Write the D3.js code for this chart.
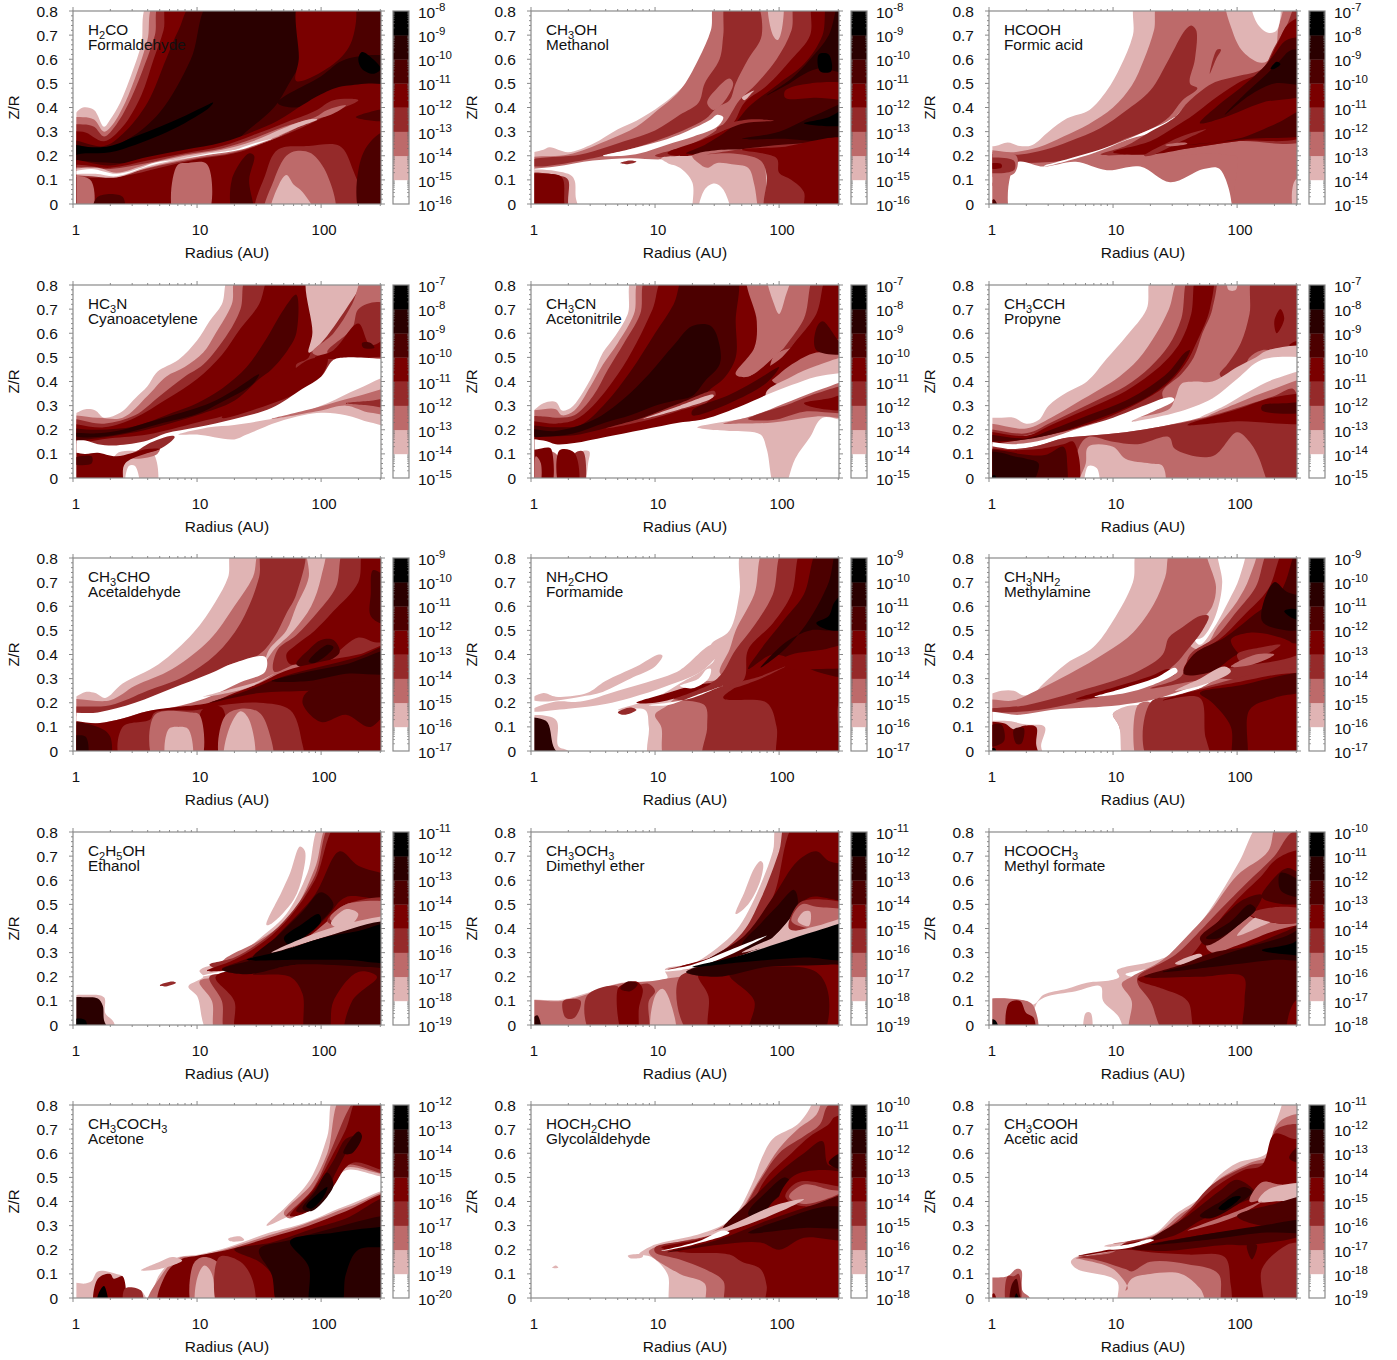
<!DOCTYPE html>
<html><head><meta charset="utf-8">
<script src="https://cdnjs.cloudflare.com/ajax/libs/d3/7.8.5/d3.min.js"></script>
<style>html,body{margin:0;background:#fff}svg{display:block}text{font-family:"Liberation Sans",Arial,sans-serif;fill:#111}</style>
</head><body><div id="c"></div>
<script>
// Abundance regions, painted in order.
// Each entry: "class  log10(R),Z/R  log10(R),Z/R ...";  * closes via the right side and the bottom of the panel.
const H2CO=[
"1 -.1,.36 0,.37 .08,.40 .17,.39 .25,.32 .3,.35 .38,.42 .48,.55 .55,.66 .63,.85 *",
"2 -.1,.34 .08,.36 .17,.35 .25,.30 .32,.33 .42,.42 .52,.55 .6,.68 .68,.85 *",
"3 -.1,.31 .08,.33 .17,.32 .25,.28 .35,.33 .47,.44 .58,.58 .66,.7 .72,.85 *",
"4 -.1,.28 .08,.30 .25,.26 .4,.32 .55,.45 .65,.6 .73,.72 .78,.85 *",
"5 -.1,.26 .25,.24 .4,.29 .6,.42 .75,.6 .85,.72 1,.85 *",
"6 -.1,.245 .25,.23 .45,.27 .7,.38 .95,.6 1.12,.85 1.83,.85 1.85,.62 1.72,.48 1.62,.40 1.42,.31 1.2,.22 .9,.2 .5,.17 0,.18 -.1,.18",
"6 1.65,.42 2.0,.53 2.2,.6 2.6,.6 2.6,.5 2.1,.46 1.8,.4",
"4 1.83,.85 2.25,.85 2.25,.68 2.1,.58 1.8,.51 1.82,.6",
"7 2.33,.63 2.42,.6 2.48,.56 2.42,.54 2.33,.56 2.3,.6",
"7 -.1,.245 .15,.235 .3,.24 .5,.28 .7,.32 .9,.365 1.1,.415 1.13,.42 1.1,.40 .9,.335 .7,.285 .5,.245 .3,.215 .1,.21 -.1,.2",
"4 -.1,.175 .3,.16 .6,.195 .9,.225 1.2,.255 1.45,.30 1.65,.345 1.85,.41 2.0,.455 2.2,.49 2.6,.47 2.6,-.05 -.1,-.05",
"5 2.28,.36 2.5,.395 2.6,.4 2.6,.35",
"3 0,.16 .3,.15 .6,.18 .9,.21 1.2,.24 1.45,.285 1.7,.335 1.95,.385 2.1,.43 2.3,.43 2.1,.38 1.9,.33 1.6,.265 1.3,.21 1.0,.185 .7,.15 .4,.115 .1,.11 -.1,.12",
"2 0,.15 .3,.145 .6,.17 .9,.205 1.2,.23 1.45,.27 1.7,.32 1.95,.36 2.05,.39 2.2,.41 2.1,.375 1.9,.34 1.6,.265 1.3,.215 1.0,.19 .7,.16 .4,.125 .1,.115 -.1,.12",
"1 0,.145 .2,.15 .35,.13 .6,.165 .9,.2 1.2,.225 1.45,.26 1.7,.315 1.9,.35 1.97,.35 1.8,.315 1.5,.25 1.2,.215 .9,.185 .6,.15 .35,.11 .15,.115 -.1,.13",
"0 0,.135 .15,.145 .35,.125 .55,.15 .65,.17 .85,.185 1.1,.21 1.3,.225 1.45,.25 1.6,.27 1.75,.3 1.55,.26 1.35,.225 1.1,.205 .8,.18 .6,.155 .35,.115 .18,.125 -.1,.125",
"2 -.1,.10 .14,.10 .14,-.05 -.1,-.05",
"5 .16,-.05 .2,.03 .4,.03 .4,-.05",
"5 1.3,-.05 1.28,.1 1.42,.21 1.46,.2 1.42,.1 1.45,-.05",
"2 .82,-.05 .84,.16 .93,.17 1.08,.165 1.08,-.05",
"3 1.48,-.05 1.55,.12 1.65,.225 1.9,.24 2.15,.24 2.25,.15 2.33,-.05",
"2 1.55,-.05 1.62,.1 1.72,.2 1.8,.22 1.92,.21 2.05,.12 2.1,-.05",
"1 1.6,-.05 1.66,.08 1.72,.12 1.78,.08 1.85,.05 1.95,-.05",
"5 2.33,-.05 2.33,.2 2.5,.3 2.7,.3 2.7,-.05"];
const CH3OH=[
"1 -.1,.17 0,.21 .1,.225 .15,.235 .3,.215 .5,.25 .7,.31 .85,.345 1.05,.41 1.25,.5 1.35,.57 1.48,.7 1.6,.85 *",
"2 -.1,.185 0,.195 .3,.205 .6,.26 .85,.32 1.0,.38 1.2,.47 1.35,.6 1.45,.72 1.5,.85 *",
"3 0,.18 .4,.205 .75,.26 1.0,.305 1.2,.37 1.35,.42 1.4,.5 1.52,.6 1.55,.7 1.58,.85 1.8,.85 1.86,.7 1.75,.6 1.65,.5 1.6,.43 1.5,.4 1.4,.35 1.0,.26 .5,.19 0,.16",
"2 1.42,.42 1.5,.48 1.6,.52 1.63,.5 1.55,.42 1.47,.39",
"1 1.92,.85 1.95,.7 1.99,.68 2.03,.75 2.02,.85",
"3 2.14,.85 2.1,.72 1.98,.6 1.82,.5 1.68,.43 1.55,.33 1.3,.25 1.0,.2 1.2,.19 2.6,.19 2.6,.85",
"4 2.28,.85 2.25,.7 2.1,.6 1.9,.49 1.72,.42 1.62,.33 1.4,.27 1.1,.21 1.3,.195 2.6,.2 2.6,.85",
"5 2.4,.85 2.35,.7 2.2,.58 2.0,.5 1.75,.4 1.62,.32 1.4,.245 1.25,.21 1.7,.22 2.6,.25 2.6,.85",
"6 2.5,.85 2.4,.7 2.25,.6 2.1,.52 1.9,.45 2.05,.49 2.3,.56 2.6,.55 2.6,.85",
"7 2.32,.62 2.4,.62 2.42,.55 2.33,.55",
"4 2.05,.47 2.25,.5 2.6,.49 2.6,.44 2.3,.44 2.05,.44",
"1 1.7,.44 1.8,.47 1.78,.46 1.72,.43",
"3 1.5,.30 1.72,.335 1.96,.345 1.75,.35 1.5,.315",
"6 1.7,.27 2.0,.30 2.3,.37 2.6,.42 2.6,.28 2.0,.27",
"7 2.2,.335 2.4,.36 2.6,.41 2.6,.335",
"0 .58,.2 .77,.224 1.04,.26 1.25,.30 1.45,.35 1.5,.37 1.55,.36 1.5,.32 1.31,.28 1.09,.245 .88,.21 .75,.2",
"0 -.1,-.1 -.1,.145 0,.145 .2,.155 .5,.18 .8,.19 1.05,.185 1.3,.2 2.0,.2 2.0,-.1",
"3 .72,.17 .8,.18 .85,.175 .78,.165",
"1 1.05,.19 1.3,.2 1.9,.2 1.9,-.1 1.33,-.1 1.3,.09 1.2,.15 1.1,.17",
"0 1.36,-.05 1.4,.06 1.48,.085 1.55,.06 1.6,-.05",
"2 1.3,.2 1.85,.2 1.85,-.1 1.8,.08 1.75,.15 1.62,.165 1.5,.17 1.42,.15 1.35,.17",
"3 1.9,-.05 1.9,.12 1.85,.18 1.6,.21 1.4,.205 2.6,.22 2.6,-.05",
"4 1.7,.225 2.0,.235 2.6,.26 2.6,-.05 2.21,-.05 2.2,.05 2.1,.1 2.0,.13 1.98,.19",
"1 -.1,.125 .3,.125 .35,.1 .36,.03 .38,-.05 -.1,-.05",
"3 -.1,.115 .25,.115 .3,.1 .3,.0 .33,-.05 -.1,-.05",
"4 -.1,.11 .12,.125 .25,.11 .27,.0 .3,-.05 -.1,-.05"];
const HCOOH=[
"1 -.1,.23 .05,.24 .15,.255 .25,.24 .35,.245 .48,.30 .63,.355 .81,.39 .95,.47 1.06,.57 1.16,.7 1.2,.85 *",
"2 -.1,.21 .2,.215 .4,.235 .6,.28 .8,.33 1.0,.40 1.15,.49 1.25,.6 1.33,.72 1.38,.85 *",
"1 1.92,.85 1.96,.72 2.05,.63 2.2,.585 2.3,.62 2.33,.72 2.36,.85",
"0 2.12,.85 2.16,.75 2.25,.71 2.32,.72 2.33,.85",
"3 -.1,.2 .25,.205 .45,.225 .65,.26 .9,.315 1.1,.385 1.3,.47 1.45,.6 1.58,.72 1.63,.74 1.67,.72 1.66,.6 1.62,.5 1.68,.48 1.56,.43 1.45,.36 1.3,.31 1.1,.27 .9,.225 .6,.18 .3,.17 -.1,.17",
"3 1.78,.54 1.83,.6 1.87,.64 1.84,.64 1.79,.57",
"0 .22,-.1 .22,.17 .44,.155 .7,.175 .95,.14 1.22,.155 1.46,.09 1.73,.145 1.86,.145 1.92,-.1",
"0 .45,.16 .52,.17 .92,.23 1.19,.285 1.43,.34 1.5,.36 1.41,.315 1.11,.265 .84,.21 .44,.155",
"1 1.5,.36 1.65,.44 1.7,.45 1.55,.38 1.45,.34 1.43,.32",
"2 2.0,-.05 2.0,.195 1.95,.2 1.8,.21 1.5,.2 1.25,.2 1.1,.2 2.0,.26 2.6,.27 2.6,-.05",
"1 2.47,-.05 2.47,.1 2.6,.1 2.6,-.05",
"3 .9,.205 1.1,.24 1.3,.3 1.5,.36 1.6,.42 1.8,.5 2.0,.53 2.2,.56 2.3,.65 2.4,.74 2.5,.85 2.6,.85 2.6,.28 2.0,.26 1.6,.23 1.3,.21",
"4 1.0,.215 1.3,.26 1.5,.32 1.65,.37 1.8,.43 2.0,.5 2.2,.55 2.32,.66 2.42,.75 2.6,.78 2.6,.3 2.0,.26 1.6,.23 1.3,.205",
"5 1.7,.335 1.85,.41 2.0,.47 2.2,.56 2.3,.62 2.4,.68 2.6,.68 2.6,.47 2.2,.42 1.9,.36",
"5 1.5,.24 2.0,.27 2.3,.33 2.6,.4 2.6,.3 2.1,.27",
"6 1.9,.37 2.05,.45 2.2,.52 2.32,.58 2.45,.64 2.6,.6 2.6,.5 2.3,.5 2.1,.45",
"7 2.27,.56 2.32,.59 2.35,.58 2.3,.56",
"3 1.25,.2 1.55,.28 1.75,.31 1.55,.26 1.3,.2",
"2 1.42,.245 1.58,.255 1.6,.25 1.45,.24",
"2 -.1,.2 .22,.2 .2,.125 -.1,.13",
"3 -.1,.18 .2,.18 .2,.14 -.1,.14",
"4 0,.165 .1,.165 .1,.15 0,.15",
"2 .02,.08 .08,.11 .15,.11 .14,.07 .05,.07",
"5 0,.0 .04,.02 .08,-.05 -.1,-.05"];
const HC3N=[
"1 -.1,.26 0,.265 .1,.285 .18,.28 .25,.25 .38,.27 .5,.33 .6,.38 .68,.44 .85,.49 1.0,.57 1.1,.65 1.2,.72 1.28,.85 *",
"2 -.1,.245 .2,.25 .4,.25 .6,.34 .75,.42 .9,.46 1.05,.52 1.15,.6 1.28,.72 1.33,.85 *",
"3 -.1,.235 .25,.225 .5,.26 .7,.34 .9,.42 1.05,.47 1.25,.6 1.35,.7 1.42,.85 *",
"4 -.1,.22 .25,.21 .5,.25 .75,.325 1.0,.41 1.2,.51 1.35,.62 1.5,.72 1.6,.85 1.9,.85 1.93,.6 1.9,.5 1.8,.47 1.8,.42 1.6,.34 1.3,.27 1.0,.23 .6,.18 .3,.165 -.1,.15",
"5 -.1,.2 .2,.2 .5,.215 .8,.27 1.0,.31 1.2,.37 1.4,.46 1.55,.57 1.7,.7 1.8,.76 1.8,.6 1.73,.53 1.6,.45 1.5,.41 1.3,.32 1.0,.26 .7,.215 .45,.185 .2,.165 -.1,.16",
"6 -.1,.19 .2,.185 .4,.2 .6,.23 .8,.26 1.1,.31 1.3,.365 1.5,.43 1.45,.39 1.2,.315 1.0,.265 .7,.225 .45,.19 .2,.17 .05,.17",
"4 1.62,.415 1.75,.44 1.9,.49 2.05,.5 2.0,.42 1.8,.35 1.5,.29 1.2,.25",
"1 1.9,.85 1.93,.6 1.9,.52 2.0,.56 2.2,.7 2.3,.78 2.36,.85",
"2 2.36,.85 2.6,.85 2.6,.5 2.05,.5 1.93,.52 2.1,.6 2.25,.72",
"3 2.05,.52 2.25,.62 2.3,.7 2.45,.73 2.6,.7 2.6,.52",
"4 1.95,.5 2.1,.53 2.3,.64 2.4,.55 2.6,.6 2.6,.52 2.4,.5",
"5 2.33,.56 2.4,.56 2.43,.54 2.34,.54",
"0 -.1,.155 0,.155 .1,.155 .2,.14 .35,.135 .6,.155 .75,.185 1.0,.21 1.3,.245 1.6,.29 1.85,.37 2.0,.42 2.1,.49 2.2,.5 2.6,.49 2.7,.49 2.7,-.1 -.1,-.1",
"1 .85,.18 1.1,.21 1.3,.22 1.55,.24 1.8,.265 2.05,.31 2.3,.37 2.6,.42 2.6,.22 2.4,.23 2.2,.26 2.0,.27 1.7,.24 1.4,.18 1.3,.16 1.0,.18",
"2 1.6,.245 1.95,.29 2.3,.34 2.6,.37 2.6,.27 2.4,.27 2.2,.3 2.0,.28",
"3 2.2,.31 2.4,.32 2.6,.33 2.6,.29 2.4,.3",
"1 2.48,.14 2.52,.15 2.52,.14",
"1 .35,.1 .55,.11 .65,.1 .66,-.05 .3,-.05",
"0 .43,-.05 .45,.05 .5,.05 .53,-.05",
"2 .45,.09 .55,.12 .7,.125 .68,.1 .5,.08",
"3 .6,.14 .8,.175 .82,.17 .7,.12 .5,.1",
"4 -.1,.1 .1,.1 .2,.105 .35,.09 .6,.12 .7,.12 .42,.06 .38,-.05 -.1,-.05",
"5 0,.08 .15,.09 .15,.06 0,.06"];
const CH3CN=[
"1 -.1,.27 0,.275 .1,.31 .2,.315 .25,.28 .32,.29 .4,.34 .5,.43 .58,.52 .68,.59 .78,.68 .84,.85 *",
"2 -.1,.255 .1,.285 .2,.285 .25,.26 .35,.28 .48,.38 .58,.47 .7,.56 .83,.68 .9,.85 *",
"3 -.1,.24 .1,.255 .2,.25 .35,.26 .5,.34 .62,.45 .75,.56 .88,.68 .95,.85 *",
"4 -.1,.225 .2,.225 .35,.24 .5,.3 .7,.43 .85,.56 .98,.7 1.1,.85 *",
"5 -.1,.215 .2,.21 .4,.22 .6,.31 .8,.44 1.0,.6 1.15,.72 1.25,.85 1.65,.85 1.65,.65 1.65,.5 1.55,.41 1.45,.37 1.3,.3 1.0,.26 .7,.22 .3,.175 -.1,.19",
"6 -.1,.205 .2,.195 .5,.24 .75,.33 .95,.43 1.15,.55 1.3,.63 1.45,.63 1.52,.55 1.52,.47 1.4,.4 1.3,.34 1.15,.32 1.0,.3 .8,.26 .6,.23 .3,.18 -.1,.18",
"3 .6,.205 .9,.25 1.2,.31 1.48,.36 1.48,.33 1.2,.28 .9,.235",
"1 .9,.245 1.2,.3 1.47,.345 1.47,.335 1.2,.285",
"2 1.75,.85 1.82,.65 1.8,.54 1.65,.43 1.75,.42 2.0,.52 2.2,.62 2.3,.75 2.35,.85",
"1 1.91,.85 1.96,.72 2.0,.68 2.05,.75 2.09,.85",
"3 2.3,.85 2.2,.66 2.0,.5 2.2,.55 2.6,.55 2.6,.85",
"4 2.4,.85 2.3,.68 2.1,.53 2.3,.55 2.6,.58 2.6,.85",
"2 1.95,.5 2.1,.54 2.6,.56 2.6,.4 1.95,.4",
"4 1.6,.38 1.8,.43 2.0,.49 2.2,.6 2.35,.65 2.4,.58 2.6,.55 2.6,.52 2.3,.52 2.1,.47 1.9,.39 1.7,.34 1.4,.3",
"5 2.3,.62 2.35,.65 2.5,.56 2.6,.54 2.6,.52 2.3,.53",
"5 1.3,.28 1.6,.345 1.8,.4 2.0,.46 1.9,.395 1.6,.31 1.3,.26",
"1 1.9,.36 2.1,.42 2.3,.465 2.6,.5 2.6,.4 1.9,.33",
"0 -.1,.15 .1,.155 .2,.14 .35,.145 .6,.17 .9,.2 1.2,.23 1.4,.245 1.7,.3 1.9,.345 2.1,.385 2.3,.42 2.6,.44 2.7,.44 2.7,-.1 -.1,-.1",
"1 1.34,.21 1.8,.255 2.1,.3 2.35,.355 2.6,.41 2.6,.24 2.35,.25 2.25,.17 2.13,.08 2.03,-.05 1.97,-.05 1.9,.12 1.85,.18 1.6,.195 1.45,.2",
"2 1.55,.225 1.8,.26 2.1,.32 2.35,.37 2.6,.4 2.6,.26 2.3,.255 1.95,.23 1.65,.225",
"3 1.75,.245 2.1,.31 2.3,.35 2.6,.38 2.6,.28 2.2,.275 1.95,.24",
"4 2.2,.31 2.4,.33 2.6,.35 2.6,.29 2.3,.29",
"1 .37,-.05 .4,.05 .41,.11 .47,.11 .46,.06 .42,-.05",
"3 .35,.1 .42,.11 .42,-.05 .35,-.05",
"2 .15,.11 .22,.09 .24,-.05 .15,-.05",
"4 -.1,.115 0,.115 .15,.125 .17,.11 .15,-.05 -.1,-.05",
"4 .23,.115 .35,.105 .37,-.05 .24,-.05",
"2 .02,.03 .04,.09 .08,.06 .06,-.05 0,-.05"];
const CH3CCH=[
"1 -.1,.23 .1,.25 .2,.25 .3,.225 .4,.24 .48,.3 .63,.355 .79,.4 .95,.495 1.11,.59 1.27,.7 1.33,.85 *",
"2 -.1,.215 .3,.205 .5,.25 .7,.31 .9,.37 1.05,.42 1.2,.49 1.35,.6 1.45,.7 1.57,.85 *",
"3 -.1,.2 .3,.185 .5,.23 .7,.28 .9,.33 1.1,.38 1.3,.46 1.45,.55 1.55,.66 1.62,.85 1.82,.85 1.8,.7 1.72,.6 1.65,.5 1.55,.43 1.4,.36 1.4,.3 .5,.2 -.1,.15",
"4 -.1,.19 .3,.175 .5,.22 .7,.265 .9,.31 1.1,.36 1.3,.43 1.45,.5 1.55,.57 1.63,.68 1.68,.85 1.8,.85 1.78,.7 1.68,.57 1.58,.47 1.42,.38 1.2,.31 .9,.24 .5,.18 -.1,.15",
"5 -.1,.18 .3,.165 .5,.2 .8,.26 1.1,.32 1.3,.38 1.45,.44 1.58,.52 1.62,.53 1.52,.44 1.35,.36 1.1,.29 .8,.23 .5,.18 .2,.155 -.1,.16",
"1 1.93,.85 1.93,.78 1.99,.78 1.99,.85",
"3 2.14,.85 2.1,.68 2.03,.56 1.92,.47 1.86,.43 1.9,.41 2.05,.45 2.1,.5 2.2,.53 2.6,.52 2.6,.85",
"4 2.3,.65 2.35,.7 2.38,.66 2.32,.6",
"4 2.42,.55 2.5,.57 2.55,.55 2.5,.54",
"4 2.55,.85 2.55,.72 2.6,.7 2.6,.85",
"1 1.1,.24 1.45,.285 1.5,.33 1.55,.39 1.65,.4 1.8,.4 2.0,.46 2.15,.5 2.25,.53 2.6,.54 2.6,.47 2.0,.38 1.5,.25",
"0 -.1,.15 .2,.14 .45,.16 .75,.21 1.0,.25 1.2,.29 1.45,.335 1.49,.33 1.49,.32 1.3,.27 1.15,.235 1.5,.27 1.8,.33 2.0,.41 2.2,.49 2.6,.5 2.7,.5 2.7,.43 2.3,.38 2.0,.3 1.7,.25 1.4,.215 1.1,.19 .8,.175 .6,.165 .4,.135 .2,.12 -.1,.125",
"1 1.7,.25 1.9,.3 2.1,.36 2.3,.41 2.6,.44 2.6,.3 1.9,.27",
"2 1.75,.25 2.0,.31 2.3,.37 2.6,.41 2.6,.3 2.0,.26",
"3 -.1,.125 .2,.12 .4,.135 .6,.165 .8,.175 1.1,.19 1.4,.215 1.7,.245 2.0,.29 2.3,.34 2.45,.37 2.5,.33 2.6,.3 2.6,-.05 -.1,-.05",
"4 2.0,.285 2.3,.335 2.6,.34 2.6,.24 2.0,.235 1.6,.22",
"5 2.2,.3 2.4,.31 2.6,.31 2.6,.28 2.2,.28",
"2 .8,.17 1.0,.15 1.2,.14 1.45,.17 1.5,.12 1.8,.09 2.0,.19 2.1,.15 2.2,.05 2.22,-.05 .7,-.05 .72,.12",
"1 .72,-.05 .78,.06 .8,.13 1.0,.13 1.1,.08 1.3,.06 1.4,.05 1.4,-.05",
"0 .78,-.05 .8,.05 .87,.04 .88,-.05",
"4 -.1,.11 .2,.115 .4,.12 .6,.14 .68,.15 .7,-.05 -.1,-.05",
"5 -.1,.11 .15,.11 .25,.1 .45,.095 .6,.13 .63,.06 .6,-.05 -.1,-.05",
"6 -.1,.1 .1,.105 .2,.09 .3,.08 .4,.06 .3,-.05 -.1,-.05",
"7 0,0 .05,.01 .05,-.05"];
const CH3CHO=[
"1 -.1,.21 0,.22 .1,.245 .18,.24 .26,.22 .4,.28 .69,.36 .97,.49 1.15,.62 1.25,.72 1.3,.85 *",
"2 -.1,.2 .3,.21 .5,.27 .8,.34 1.1,.46 1.3,.6 1.45,.72 1.53,.85 *",
"3 -.1,.175 .3,.19 .6,.25 .9,.31 1.15,.4 1.35,.53 1.5,.72 1.53,.85 1.86,.85 1.8,.65 1.72,.57 1.62,.47 1.5,.4 1.2,.34 1.2,.3 .7,.2 -.1,.15",
"1 1.89,.85 1.9,.72 1.8,.6 1.72,.5 1.58,.42 1.55,.37 1.62,.42 1.78,.5 1.92,.6 2.0,.72 2.03,.85",
"3 2.2,.85 2.12,.68 1.98,.58 1.8,.48 1.65,.42 1.62,.33 1.85,.37 2.6,.4 2.6,.85",
"4 2.35,.85 2.3,.7 2.1,.58 1.95,.5 1.8,.44 1.72,.4 1.75,.36 1.95,.38 2.1,.4 2.3,.47 2.45,.45 2.6,.47 2.6,.85",
"5 2.4,.65 2.42,.75 2.55,.7 2.6,.6 2.5,.53 2.4,.56",
"5 1.8,.36 1.9,.42 2.0,.46 2.1,.46 2.15,.41 2.05,.37 1.9,.345",
"6 1.9,.37 2.05,.44 2.1,.43 1.95,.365",
"0 -.1,.15 .2,.16 .5,.2 .8,.26 1.1,.32 1.3,.365 1.55,.39 1.55,.33 1.35,.285 1.1,.225 .8,.18 .6,.165 .4,.135 .2,.115 -.1,.115",
"4 -.1,.115 .2,.115 .4,.135 .6,.165 .8,.18 1.1,.2 1.3,.24 1.5,.28 1.7,.33 2.0,.37 2.3,.4 2.6,.44 2.6,-.05 -.1,-.05",
"1 1.05,.225 1.3,.26 1.5,.29 1.62,.32 1.45,.27 1.25,.24",
"5 1.1,.2 1.4,.25 1.7,.31 2.0,.35 2.3,.39 2.6,.44 2.6,.27 1.9,.25 1.5,.24",
"6 1.6,.29 1.9,.33 2.2,.36 2.6,.42 2.6,.33 2.2,.32 1.9,.29",
"5 1.9,.25 2.6,.27 2.4,.1 2.2,.15 2.0,.12 1.85,.2",
"3 .4,-.05 .4,.1 .62,.13 .66,.16 1.0,.17 1.2,.19 1.5,.2 1.75,.17 1.84,.05 1.84,-.05",
"4 1.04,-.05 1.04,.17 1.2,.18 1.2,-.05",
"2 .66,-.05 .66,.15 .95,.16 1.02,.15 1.02,-.05",
"1 .76,-.05 .77,.09 .85,.1 .93,.09 .95,-.05",
"2 1.2,-.05 1.22,.14 1.35,.175 1.5,.16 1.58,.08 1.6,-.05",
"1 1.23,-.05 1.25,.08 1.35,.165 1.42,.13 1.45,-.05",
"5 -.1,.11 .2,.1 .3,.06 .28,-.05 -.1,-.05",
"6 -.1,.04 .1,.06 .1,-.05 -.1,-.05"];
const NH2CHO=[
"1 0,.215 .1,.24 .2,.225 .45,.24 .6,.29 .85,.35 1.03,.4 1.06,.395 1.0,.35 .8,.3 .55,.24 .4,.225 .1,.205",
"1 0,.17 .2,.205 .4,.205 .7,.25 1.0,.295 1.2,.335 1.45,.44 1.55,.44 1.4,.34 1.1,.27 .8,.22 .6,.195 .3,.175 0,.165",
"1 .7,.17 1.0,.22 1.2,.28 1.4,.34 1.48,.38 1.45,.44 1.6,.5 1.68,.65 1.72,.85 2.6,.85 2.6,-.05 .97,-.05 .95,.1 .92,.17",
"2 1.9,.85 1.8,.65 1.65,.5 1.6,.42 1.52,.33 1.55,.3 1.3,.28 1.1,.19 1.0,.15 1.05,.1 1.1,-.05 2.6,-.05 2.6,.85",
"3 2.05,.85 1.95,.65 1.8,.52 1.65,.42 1.5,.3 1.15,.22 1.4,.19 1.42,.1 1.4,-.05 2.6,-.05 2.6,.85",
"4 2.2,.85 2.1,.65 1.95,.53 1.75,.42 1.72,.3 1.55,.22 1.9,.2 1.98,.1 2.0,-.05 2.45,-.05 2.48,.2 2.6,.3 2.6,.85",
"5 2.33,.85 2.2,.65 2.05,.55 1.85,.42 1.75,.34 1.95,.4 2.15,.37 2.3,.33 2.6,.32 2.6,.85",
"6 2.48,.85 2.4,.7 2.25,.55 2.1,.45 1.95,.38 1.85,.345 2.05,.45 2.25,.5 2.4,.5 2.6,.52 2.6,.85",
"7 2.3,.53 2.4,.56 2.45,.62 2.6,.68 2.6,.52 2.42,.5",
"4 1.95,.36 2.1,.4 2.35,.42 2.6,.44 2.6,.36 2.3,.34 2.1,.34",
"3 1.6,.27 1.85,.31 2.05,.35 1.85,.3 1.6,.26",
"4 .85,.2 1.1,.24 1.3,.27 1.45,.28 1.2,.225 1.0,.2",
"0 .95,.19 1.1,.2 1.3,.22 1.45,.25 1.55,.27 1.3,.225 1.1,.19",
"0 1.2,.27 1.35,.3 1.42,.34 1.45,.34 1.43,.3 1.3,.26",
"3 .7,.16 .8,.18 .85,.17 .75,.15",
"1 -.1,.13 .2,.13 .22,.02 .3,.0 .3,-.05 -.1,-.05",
"6 -.1,.125 .12,.125 .18,.02 .25,-.05 -.1,-.05"];
const CH3NH2=[
"1 -.1,.225 0,.235 .1,.25 .2,.25 .28,.23 .36,.24 .44,.28 .63,.365 .84,.43 1.0,.54 1.16,.7 1.22,.85 *",
"2 -.1,.2 .2,.21 .38,.25 .65,.32 .95,.41 1.16,.49 1.33,.61 1.42,.72 1.49,.85 *",
"1 1.76,.85 1.83,.68 1.8,.6 1.7,.53 1.62,.44 1.72,.42 1.85,.52 2.0,.62 2.1,.72 2.15,.85",
"0 1.85,.85 1.88,.7 1.85,.6 1.8,.53 1.72,.47 1.66,.46 1.7,.44 1.8,.5 1.93,.62 2.02,.72 2.06,.85",
"3 1.45,.47 1.55,.51 1.7,.56 1.77,.56 1.72,.5 1.6,.42 1.5,.36 1.3,.29 1.0,.24 .7,.2 .4,.17 .1,.16 -.1,.17 .1,.18 .3,.19 .8,.26 1.2,.33 1.4,.4",
"3 2.28,.85 2.15,.68 2.0,.58 1.82,.47 1.62,.4 1.55,.31 1.3,.26 1.8,.3 2.6,.3 2.6,.85",
"4 2.4,.85 2.25,.67 2.05,.56 1.85,.46 1.65,.4 1.57,.33 2.0,.35 2.6,.44 2.6,.85",
"5 2.5,.85 2.35,.66 2.1,.55 1.9,.47 1.65,.4 1.57,.32 1.8,.33 2.0,.4 2.3,.45 2.6,.46 2.6,.85",
"4 1.95,.46 2.1,.49 2.35,.47 2.45,.44 2.3,.39 2.1,.37",
"3 2.0,.4 2.2,.43 2.35,.44 2.2,.39 2.05,.36",
"2 1.95,.35 2.15,.4 2.3,.4 2.1,.355",
"6 2.3,.7 2.4,.66 2.6,.62 2.6,.52 2.4,.5 2.2,.54",
"7 2.38,.58 2.45,.59 2.6,.56 2.6,.54 2.45,.55",
"4 .7,.215 1.05,.27 1.3,.31 1.45,.34 1.5,.32 1.2,.27 .9,.225",
"0 .85,.225 1.05,.255 1.35,.305 1.5,.345 1.52,.33 1.3,.27 1.1,.24",
"0 -.1,-.1 -.1,.15 .25,.15 .5,.17 .8,.18 1.05,.19 1.3,.21 1.5,.24 1.7,.28 1.9,.33 1.7,.26 1.4,.21 1.2,.19 1.0,.155 1.05,.1 1.09,-.1",
"1 1.0,.155 1.2,.185 1.2,-.05 1.09,-.05 1.05,.1",
"2 1.2,.19 1.3,.2 1.3,-.05 1.2,-.05",
"3 1.3,.2 1.5,.23 2.6,.32 2.6,-.05 1.3,-.05",
"1 1.9,.35 1.7,.3 1.5,.25 1.7,.27 1.95,.33",
"4 1.4,.21 1.7,.22 1.75,.05 1.85,-.05 2.6,-.05 2.6,.3 1.95,.28",
"5 1.7,.24 2.0,.27 2.6,.32 2.6,.26 2.3,.22 2.1,.17 2.07,-.05 1.97,-.05 1.95,.1 1.8,.2",
"1 -.1,.105 .12,.125 .3,.11 .45,.1 .42,.02 .45,-.05 -.1,-.05",
"4 -.1,.105 .12,.115 .2,.09 .28,.105 .38,.1 .38,.03 .4,-.05 -.1,-.05",
"5 0,.1 .1,.11 .12,.04 0,.02",
"5 .2,.09 .28,.095 .26,.03 .22,.03",
"7 0,.01 .05,.01 .05,-.05 0,-.05"];
const C2H5OH=[
"1 1.56,.415 1.68,.55 1.75,.63 1.83,.74 1.87,.72 1.85,.62 1.78,.52 1.6,.42",
"1 1.02,.225 1.3,.28 1.53,.37 1.72,.46 1.89,.63 2.02,.85 2.6,.85 2.6,-.05 1.12,-.05 1.0,.12 .93,.16 1.05,.2",
"2 1.2,.26 1.5,.35 1.75,.45 1.95,.65 2.08,.85 2.6,.85 2.6,.2 1.2,.2",
"3 1.1,.25 1.3,.28 1.55,.36 1.75,.46 1.95,.62 2.1,.85 2.6,.85 2.6,.55 2.2,.53 1.8,.34 1.3,.22",
"4 1.08,.225 1.3,.27 1.55,.35 1.75,.45 1.95,.6 2.15,.85 2.6,.85 2.6,.52 2.2,.5 2.05,.43 1.8,.33 1.5,.26 1.2,.225",
"5 1.2,.235 1.5,.3 1.7,.4 1.95,.54 2.15,.72 2.3,.66 2.6,.6 2.6,.52 2.2,.53 2.05,.45 1.85,.35 1.6,.28",
"6 1.45,.28 1.65,.37 1.85,.47 2.0,.55 2.1,.5 1.98,.42 1.8,.34 1.6,.28",
"7 1.7,.36 1.85,.42 1.98,.46 2.0,.43 1.85,.36 1.75,.33",
"3 2.05,.43 2.2,.5 2.6,.52 2.6,.45 2.3,.4",
"2 2.07,.44 2.2,.5 2.6,.5 2.6,.46 2.3,.41",
"1 2.08,.42 2.2,.48 2.3,.46 2.2,.4",
"0 1.0,.2 1.3,.235 1.6,.28 1.8,.33 1.5,.25 1.2,.215",
"1 1.6,.3 1.9,.37 2.2,.42 2.6,.45 2.6,.43 2.2,.39",
"2 1.02,.18 1.2,.2 2.6,.3 2.6,-.05 1.17,-.05 1.12,.1",
"3 1.1,.2 1.3,.215 2.6,.3 2.6,-.05 1.25,-.05 1.2,.1",
"4 1.15,.2 1.6,.24 2.6,.3 2.6,-.05 1.33,-.05 1.3,.1",
"5 1.45,.21 1.8,.25 2.6,.27 2.6,.2 2.5,-.05 2.2,-.05 2.25,.1 2.45,.2 2.3,.22 2.1,.1 2.05,-.05 1.88,-.05 1.85,.13 1.75,.2",
"6 1.2,.23 1.6,.29 2.0,.36 2.6,.42 2.6,.24 2.4,.24 1.8,.25 1.4,.21",
"7 1.4,.27 1.7,.31 2.0,.36 2.3,.39 2.6,.42 2.6,.27 2.2,.27 1.8,.27",
"1 -.1,.105 .1,.125 .25,.115 .26,.05 .33,.01 .33,-.05 -.1,-.05",
"6 -.1,.1 .1,.115 .2,.11 .24,.08 .25,.02 .3,-.05 -.1,-.05",
"7 0,.02 .1,.02 .1,-.05 0,-.05",
"3 .7,.165 .8,.18 .83,.175 .75,.16"];
const CH3OCH3=[
"1 1.65,.46 1.72,.55 1.8,.65 1.85,.68 1.87,.67 1.85,.6 1.75,.5",
"1 -.1,.09 .25,.105 .5,.14 .73,.175 .92,.18 1.1,.195 1.08,.23 1.3,.255 1.45,.3 1.65,.39 1.75,.47 1.85,.58 1.95,.72 2.0,.85 *",
"3 1.1,.23 1.45,.28 1.7,.38 1.85,.52 2.0,.72 2.07,.85 2.6,.85 2.6,.5 2.2,.5 2.0,.4 1.7,.3 1.4,.24",
"4 1.2,.24 1.5,.29 1.75,.38 1.95,.53 2.15,.85 2.6,.85 2.6,.5 2.3,.52 2.1,.47 2.0,.4 1.75,.31 1.4,.24",
"5 1.4,.26 1.72,.37 1.95,.53 2.15,.68 2.3,.72 2.4,.68 2.6,.65 2.6,.52 2.25,.53 2.12,.47 2.0,.39 1.75,.3",
"6 1.7,.33 1.85,.42 1.98,.49 2.12,.56 2.15,.5 2.0,.39 1.8,.31",
"3 2.08,.4 2.15,.5 2.25,.52 2.6,.49 2.6,.44 2.3,.4",
"2 2.1,.43 2.18,.5 2.3,.49 2.6,.47 2.6,.45 2.3,.4",
"1 2.15,.43 2.2,.47 2.25,.47 2.24,.41",
"0 1.0,.22 1.3,.25 1.6,.31 1.9,.37 1.6,.29 1.3,.235",
"1 1.7,.3 2.0,.37 2.3,.41 2.6,.45 2.6,.43 2.3,.39 2.0,.34",
"2 -.1,.09 .25,.1 .5,.135 .7,.17 .95,.18 1.2,.2 2.6,.26 2.6,-.05 -.1,-.05",
"3 .45,.12 .7,.16 .72,.1 .85,.16 .95,.17 1.0,.14 .95,.1 .93,-.05 .5,-.05",
"4 .7,.15 .75,.17 .85,.18 .9,.15 .87,.07 .85,-.05 .75,-.05",
"5 .72,.15 .78,.18 .86,.17 .8,.14",
"1 .98,-.05 1.0,.12 1.06,.15 1.12,.1 1.16,-.05",
"3 1.2,.2 1.6,.22 2.6,.26 2.6,-.05 1.3,-.05",
"4 1.35,.21 1.7,.23 2.6,.26 2.6,-.05 1.46,-.05 1.43,.12",
"5 1.6,.21 1.9,.24 2.3,.22 2.4,.12 2.33,-.05 1.76,-.05 1.8,.1",
"6 1.25,.22 2.0,.32 2.6,.4 2.6,.26 2.4,.25 1.9,.24 1.5,.2",
"7 1.3,.24 1.7,.29 2.0,.34 2.3,.39 2.6,.42 2.6,.28 2.2,.28 1.7,.26",
"3 .26,.1 .4,.1 .35,.03 .28,.03",
"6 0,.02 .05,.04 .08,.0 .08,-.05 -.1,-.05"];
const HCOOCH3=[
"1 -.1,.09 .25,.105 .36,.085 .44,.125 .63,.15 .79,.175 .98,.185 1.05,.2 1.03,.225 1.33,.265 1.49,.3 1.67,.4 1.86,.54 2.02,.68 2.21,.85 *",
"0 .38,-.05 .38,.085 .45,.115 .7,.14 .9,.16 .92,.1 1.05,.03 1.07,-.05",
"1 .77,-.05 .78,.05 .82,.05 .82,-.05",
"0 1.1,.21 1.3,.235 1.5,.26 1.35,.225 1.15,.2",
"2 1.15,-.05 1.15,.1 1.07,.17 1.15,.2 1.4,.27 1.6,.37 1.78,.47 2.0,.62 2.25,.72 2.33,.85 2.6,.85 2.6,-.05",
"3 1.45,-.05 1.3,.1 1.2,.17 1.2,.2 1.5,.29 1.72,.4 1.85,.47 2.1,.6 2.3,.7 2.45,.8 2.6,.78 2.6,-.05",
"4 1.69,-.05 1.6,.1 1.4,.15 1.2,.19 1.55,.25 1.8,.4 2.0,.52 2.2,.62 2.3,.68 2.45,.72 2.6,.72 2.6,-.05",
"1 1.5,.255 1.7,.295 1.72,.285 1.55,.25",
"2 1.75,.33 2.05,.46 2.15,.44 2.35,.42 2.6,.43 2.3,.39 2.0,.33 1.8,.3",
"1 2.0,.37 2.2,.46 2.3,.44 2.2,.41",
"3 2.1,.46 2.35,.49 2.6,.47 2.6,.44 2.35,.42",
"5 1.7,.36 1.85,.43 2.05,.52 2.2,.54 2.15,.48 2.0,.41 1.85,.35 1.75,.33",
"6 1.75,.36 1.95,.43 2.1,.5 2.15,.48 2.05,.43 1.85,.36",
"5 2.25,.58 2.4,.65 2.5,.63 2.6,.6 2.6,.52 2.4,.5 2.2,.53",
"6 2.35,.63 2.5,.6 2.6,.55 2.5,.53 2.35,.56",
"5 1.25,.2 1.55,.25 1.8,.3 2.1,.33 2.4,.39 2.6,.43 2.6,-.05 2.07,-.05 2.06,.1 2.05,.2 1.7,.2",
"6 1.4,.22 1.7,.26 2.0,.31 2.4,.37 2.6,.42 2.6,.28 2.3,.27 1.8,.24",
"7 2.2,.31 2.45,.34 2.6,.39 2.6,.29 2.45,.29",
"4 2.41,-.05 2.47,.1 2.6,.1 2.6,-.05",
"2 -.1,.09 .25,.105 .35,.085 .38,-.05 -.1,-.05",
"4 .16,.09 .25,.1 .3,.05 .36,.03 .36,-.05 .16,-.05",
"7 0,.02 .05,.02 .08,-.05 -.1,-.05"];
const CH3COCH3=[
"1 1.56,.3 1.72,.38 1.91,.49 2.05,.67 2.12,.85 2.6,.85 2.6,.51 2.2,.53 2.05,.45 1.9,.385 1.7,.33",
"2 1.7,.35 1.92,.47 2.05,.6 2.18,.85 2.6,.85 2.6,.52 2.2,.54 2.05,.46 1.9,.385 1.75,.33",
"3 1.72,.34 1.93,.45 2.07,.6 2.22,.78 2.32,.85 2.6,.85 2.6,.52 2.2,.55 2.07,.46 1.9,.38",
"4 1.75,.34 1.95,.46 2.1,.6 2.2,.7 2.32,.85 2.6,.85 2.6,.53 2.25,.56 2.08,.45 1.9,.36",
"5 1.8,.36 1.95,.45 2.1,.57 2.2,.66 2.28,.67 2.2,.6 2.1,.5 2.05,.44 1.9,.36",
"6 1.85,.37 1.95,.44 2.05,.52 2.1,.47 2.05,.42 1.92,.36",
"7 1.88,.38 1.97,.43 2.05,.46 2.02,.42 1.92,.37",
"6 2.18,.6 2.3,.69 2.33,.67 2.25,.6",
"1 1.25,.245 1.35,.255 1.38,.24 1.27,.235",
"1 -.1,-.05 .55,-.05 .7,.1 .83,.165 1.02,.18 1.25,.21 1.58,.27 1.86,.31 2.24,.39 2.6,.44 2.6,-.05",
"2 .6,-.05 .72,.1 .85,.165 1.02,.175 1.25,.205 1.58,.26 1.86,.305 2.24,.38 2.6,.435 2.6,-.05",
"4 .7,-.05 .75,.1 .87,.16 1.0,.175 1.25,.2 1.58,.25 1.9,.3 2.2,.36 2.6,.43 2.6,-.05",
"5 1.3,.2 1.6,.23 1.95,.29 2.2,.33 2.6,.42 2.6,-.05 1.68,-.05 1.6,.1 1.5,.15",
"6 1.5,.2 1.75,.24 2.1,.29 2.5,.34 2.6,.34 2.6,-.05 1.68,-.05 1.6,.1",
"7 1.75,.235 2.1,.27 2.4,.29 2.6,.29 2.6,.22 2.3,.2 2.2,.1 2.15,-.05 1.92,-.05 1.9,.13",
"2 .97,-.05 .97,.14 1.05,.17 1.18,.14 1.18,-.05",
"1 1.0,-.05 1.0,.08 1.06,.135 1.12,.1 1.12,-.05",
"3 1.18,.17 1.35,.15 1.45,.07 1.45,-.05 1.18,-.05",
"1 .55,.115 .7,.15 .8,.17 .88,.155 .7,.12",
"1 -.1,.06 .1,.06 .15,.07 .2,.11 .35,.1 .4,.09 .42,.04 .55,.03 .6,-.05 -.1,-.05",
"4 .2,.08 .3,.1 .33,.08 .4,.09 .4,-.05 .18,-.05",
"7 .2,.01 .25,.05 .28,-.05 .2,-.05",
"3 .42,-.05 .42,.04 .55,.03 .55,-.05"];
const HOCH2CHO=[
"1 .17,.125 .2,.135 .22,.125",
"1 .78,.175 .9,.18 .9,.17 .8,.165",
"1 .97,.215 1.39,.27 1.62,.33 1.78,.47 1.86,.58 1.95,.66 2.15,.72 2.26,.8 2.28,.85 2.6,.85 2.6,-.05 1.15,-.05 1.1,.1 .97,.17 .87,.18",
"2 1.0,.21 1.4,.26 1.65,.34 1.85,.5 2.0,.62 2.15,.7 2.3,.76 2.38,.85 2.6,.85 2.6,-.05 1.43,-.05 1.4,.06 1.2,.1 .95,.19",
"3 1.0,.21 1.4,.255 1.65,.33 1.85,.49 2.0,.6 2.2,.67 2.33,.72 2.4,.8 2.6,.8 2.6,-.05 1.58,-.05 1.55,.07 1.4,.12 1.2,.16 1.0,.19",
"4 1.05,.21 1.4,.25 1.7,.33 1.9,.5 2.1,.6 2.25,.67 2.4,.72 2.45,.75 2.6,.75 2.6,-.05 1.9,-.05 1.9,.05 1.85,.12 1.7,.15 1.6,.18 1.2,.19",
"5 1.55,.29 1.8,.42 2.0,.52 2.2,.6 2.35,.65 2.4,.55 2.6,.55 2.6,.5 2.3,.5 2.0,.42 1.8,.33",
"6 1.75,.35 1.9,.44 2.05,.5 2.1,.47 1.95,.4 1.82,.32",
"6 2.4,.56 2.5,.6 2.6,.58 2.55,.53",
"4 2.0,.4 2.1,.5 2.3,.53 2.6,.5 2.6,.42 2.2,.38",
"3 2.05,.42 2.15,.48 2.4,.47 2.6,.44 2.2,.38",
"2 2.08,.42 2.2,.47 2.4,.45 2.5,.44 2.2,.39",
"1 1.3,.245 1.6,.3 1.85,.36 2.0,.39 2.2,.41 2.1,.38 1.9,.335 1.6,.28",
"0 1.05,.195 1.35,.235 1.55,.28 1.6,.27 1.3,.22",
"5 1.1,.19 1.5,.24 1.9,.32 2.3,.39 2.6,.43 2.6,.25 2.2,.25 2.0,.2 1.85,.23 1.5,.22",
"6 1.75,.27 2.05,.33 2.4,.38 2.6,.36 2.6,.3 2.2,.29"];
const CH3COOH=[
"1 .93,.215 1.33,.265 1.51,.35 1.7,.415 1.86,.51 2.0,.56 2.24,.6 2.29,.69 2.36,.8 2.38,.85 2.6,.85 2.6,-.05 1.06,-.05 1.03,.07 .71,.12 .66,.15 .7,.17 .9,.19 1.1,.21",
"2 1.0,.225 1.33,.26 1.55,.35 1.7,.4 1.85,.49 2.1,.56 2.25,.59 2.3,.7 2.4,.75 2.6,.75 2.6,-.05 1.8,-.05 1.7,.04 1.55,.1 1.3,.1 1.15,.08 1.1,.03 1.12,.04 1.0,.12 .75,.16 .7,.165 1.0,.195 1.3,.24",
"3 1.1,.23 1.35,.26 1.6,.36 1.8,.47 2.1,.55 2.25,.57 2.32,.7 2.6,.7 2.6,-.05 1.9,-.05 1.85,.1 1.6,.14 1.3,.15 1.15,.11 1.1,.12 .85,.16 .72,.17 1.0,.19",
"4 1.1,.225 1.4,.26 1.6,.35 1.8,.45 2.05,.53 2.2,.55 2.3,.68 2.45,.66 2.6,.65 2.6,.25 2.4,.22 2.2,.12 2.2,-.05 1.99,-.05 1.95,.05 1.9,.17 1.6,.18 1.3,.19 1.1,.2 .75,.175 .72,.175 1.0,.205",
"5 2.42,.58 2.5,.63 2.6,.63 2.6,.57 2.5,.56",
"5 1.3,.24 1.6,.34 1.85,.44 2.0,.49 2.15,.43 1.9,.37 1.7,.32 1.5,.26",
"6 1.7,.34 1.9,.41 2.05,.46 2.12,.44 1.95,.37 1.78,.33",
"7 1.85,.37 1.97,.42 2.03,.42 1.9,.365",
"2 2.1,.4 2.2,.48 2.35,.47 2.6,.47 2.6,.43 2.3,.42",
"1 2.17,.4 2.25,.45 2.6,.47 2.6,.42 2.3,.4",
"2 1.6,.28 2.0,.36 2.2,.4 2.0,.34 1.7,.29",
"0 .93,.205 1.15,.225 1.3,.245 1.33,.24 1.15,.21 1.0,.2",
"5 2.0,.34 2.3,.39 2.6,.42 2.6,.33 2.2,.3",
"5 1.15,.205 1.7,.26 2.1,.29 2.6,.35 2.6,.28 2.1,.22 1.9,.22 1.4,.195",
"6 1.3,.22 1.7,.26 2.2,.3 2.6,.32 2.6,.28 2.2,.27 1.75,.24",
"5 2.08,.22 2.12,.16 2.16,.22",
"2 -.1,.08 .0,.085 .15,.09 .22,.12 .26,.115 .27,.03 .33,0 .33,-.05 -.1,-.05",
"3 .15,-.05 .15,.09 .2,.09 .24,.1 .24,-.05",
"5 .18,-.05 .18,.05 .22,.08 .25,.01 .28,-.05",
"7 .2,-.05 .22,.02 .26,-.05",
"4 0,.0 .04,.02 .06,-.05 -.1,-.05"];

const regionsByPanel=[H2CO,CH3OH,HCOOH,HC3N,CH3CN,CH3CCH,CH3CHO,NH2CHO,CH3NH2,C2H5OH,CH3OCH3,HCOOCH3,CH3COCH3,HOCH2CHO,CH3COOH];
const formulas=["H2CO","CH3OH","HCOOH","HC3N","CH3CN","CH3CCH","CH3CHO","NH2CHO","CH3NH2","C2H5OH","CH3OCH3","HCOOCH3","CH3COCH3","HOCH2CHO","CH3COOH"];
const names=["Formaldehyde","Methanol","Formic acid","Cyanoacetylene","Acetonitrile","Propyne","Acetaldehyde","Formamide","Methylamine","Ethanol","Dimethyl ether","Methyl formate","Acetone","Glycolaldehyde","Acetic acid"];
const topExponents=[-8,-8,-7,-7,-7,-7,-9,-9,-9,-11,-11,-10,-12,-10,-11];
const levelColors=["#ffffff","#e0b4b4","#bd6a6a","#952a2a","#7a0000","#4c0000","#2a0000","#000000"];
const xTicks=[1,10,100];
const yTicks=[0,0.1,0.2,0.3,0.4,0.5,0.6,0.7,0.8];

const W=1397,H=1360,lefts=[73,531,989],tops=[11,285,558,832,1105],pw=308,ph=193;
const axisGrey="#8a8a8a";
const tail=[[2.6,.85],[2.6,-.05],[-.1,-.05]];
const svg=d3.select("#c").append("svg").attr("width",W).attr("height",H);
const defs=svg.append("defs");

formulas.forEach((f,k)=>{
  const col=k%3,row=Math.floor(k/3),L=lefts[col],T=tops[row];
  const g=svg.append("g").attr("transform",`translate(${L},${T})`);
  const x=d3.scaleLog().domain([1,304]).range([0,pw]);
  const y=d3.scaleLinear().domain([0,0.8]).range([ph,0]);
  const shapes=regionsByPanel[k].map(s=>{
    const parts=s.trim().split(/\s+/),level=+parts[0],pts=[];let closeTail=false;
    parts.slice(1).forEach(p=>{if(p==="*")closeTail=true;else pts.push(p.split(",").map(Number));});
    return {level,pts:closeTail?pts.concat(tail):pts};
  });
  const line=d3.line().x(d=>x(Math.pow(10,d[0]))).y(d=>y(d[1])).curve(d3.curveCatmullRomClosed.alpha(0.5));
  const left=x(1.065);
  defs.append("clipPath").attr("id","clip"+k).append("rect").attr("x",left).attr("y",0).attr("width",pw-left).attr("height",ph);
  g.append("g").attr("clip-path",`url(#clip${k})`).selectAll("path").data(shapes).join("path")
    .attr("d",d=>line(d.pts)).attr("fill",d=>levelColors[d.level]);
  g.append("rect").attr("width",pw).attr("height",ph).attr("fill","none").attr("stroke",axisGrey).attr("stroke-width",1.2);
  const minor=[];for(const d of [1,10,100])for(let m=1;m<10;m++){const v=d*m;if(v<=304)minor.push(v);}
  minor.forEach(v=>{const maj=xTicks.includes(v),len=maj?4:2;
    g.append("line").attr("x1",x(v)).attr("x2",x(v)).attr("y1",ph).attr("y2",ph+len).attr("stroke",axisGrey);
    g.append("line").attr("x1",x(v)).attr("x2",x(v)).attr("y1",0).attr("y2",-len).attr("stroke",axisGrey);});
  d3.range(0,41).forEach(i=>{const v=i*0.02,maj=i%5===0,len=maj?4:2;
    g.append("line").attr("x1",-len).attr("x2",0).attr("y1",y(v)).attr("y2",y(v)).attr("stroke",axisGrey);
    g.append("line").attr("x1",pw).attr("x2",pw+len).attr("y1",y(v)).attr("y2",y(v)).attr("stroke",axisGrey);});
  xTicks.forEach(v=>g.append("text").attr("x",x(v)+3).attr("y",ph+31).attr("text-anchor","middle").attr("font-size",15).text(v));
  yTicks.forEach(v=>g.append("text").attr("x",-15).attr("y",y(v)+5.5).attr("text-anchor","end").attr("font-size",15.5).text(v===0?"0":v.toFixed(1)));
  g.append("text").attr("x",154).attr("y",ph+54).attr("text-anchor","middle").attr("font-size",15.5).text("Radius (AU)");
  g.append("text").attr("transform",`translate(-54,${ph/2}) rotate(-90)`).attr("text-anchor","middle").attr("font-size",15).text("Z/R");
  const t=g.append("text").attr("x",15).attr("y",24).attr("font-size",15.3);
  let shift=0;
  f.split(/(\d)/).forEach(p=>{if(!p)return;
    const sub=/\d/.test(p);
    t.append("tspan").attr("dy",(sub?4:0)+shift).attr("font-size",sub?11:15.3).text(p);
    shift=sub?-4:0;});
  g.append("text").attr("x",15).attr("y",39).attr("font-size",15.3).text(names[k]);
  const bar=g.append("g").attr("transform",`translate(${pw+12},0)`);
  const top=topExponents[k],cb=d3.scaleLinear().domain([top,top-8]).range([0,ph]);
  levelColors.forEach((c,i)=>bar.append("rect").attr("x",0).attr("y",cb(top-7+i)).attr("width",16).attr("height",cb(top-8+i)-cb(top-7+i)+0.3).attr("fill",c));
  d3.range(0,8).forEach(i=>{for(let m=2;m<10;m++){const yy=cb(top-8+i+Math.log10(m));
    bar.append("line").attr("x1",0).attr("x2",2).attr("y1",yy).attr("y2",yy).attr("stroke","#666").attr("stroke-width",.6);
    bar.append("line").attr("x1",14).attr("x2",16).attr("y1",yy).attr("y2",yy).attr("stroke","#666").attr("stroke-width",.6);}});
  bar.append("rect").attr("width",16).attr("height",ph).attr("fill","none").attr("stroke",axisGrey).attr("stroke-width",1.2);
  d3.range(0,9).forEach(i=>{const e=top-i,yy=cb(e);
    const tx=bar.append("text").attr("x",25).attr("y",yy+7).attr("font-size",15.5);
    tx.append("tspan").text("10");
    tx.append("tspan").attr("dy",-7).attr("font-size",11.5).text(String(e));});
});
</script></body></html>
